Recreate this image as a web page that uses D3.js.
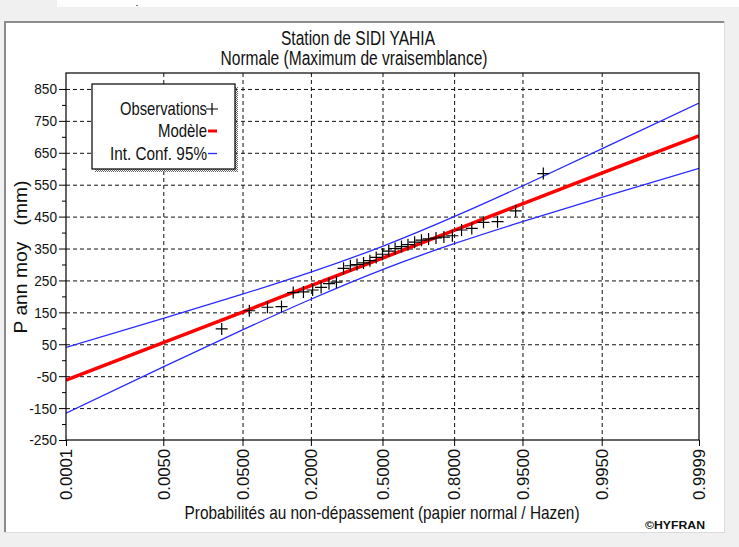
<!DOCTYPE html>
<html><head><meta charset="utf-8">
<script src="https://cdn.jsdelivr.net/npm/d3@7"></script>
<style>
html,body{margin:0;padding:0;background:#f0f0f0;}
svg{display:block;}
</style></head><body>
<svg id="chart" width="739" height="547"></svg>
<script>
// Annual mean rainfall at Sidi Yahia, normal law fitted by maximum likelihood
const probTicks = [0.0001, 0.005, 0.05, 0.2, 0.5, 0.8, 0.95, 0.995, 0.9999];
const probLabels = ["0.0001", "0.0050", "0.0500", "0.2000", "0.5000", "0.8000", "0.9500", "0.9950", "0.9999"];
const yTicks = [-250, -150, -50, 50, 150, 250, 350, 450, 550, 650, 750, 850];
const yMinorTicks = [-200, -100, 0, 100, 200, 300, 400, 500, 600, 700, 800];
// fitted quantiles and 95% confidence bounds at the probability ticks (mm)
const modelValues = [-62, 55, 151, 234, 320, 407, 490, 586, 703];
const ciUpper = [40, 131, 207, 276, 357, 450, 546, 662, 806];
const ciLower = [-166, -21, 95, 191, 284, 365, 434, 510, 601];
// observed annual means, sorted ascending (mm)
const observations = [98, 155, 166, 168, 212, 214, 220, 228, 240, 245, 288, 296, 300, 305, 312, 322, 332,
  342, 350, 356, 362, 370, 376, 380, 383, 386, 390, 408, 413, 432, 434, 468, 585];

const SANS = "'Liberation Sans',Arial,sans-serif";

// inverse of the standard normal CDF (Acklam)
function probit(p) {
  const a = [-3.969683028665376e+01, 2.209460984245205e+02, -2.759285104469687e+02, 1.383577518672690e+02, -3.066479806614716e+01, 2.506628277459239e+00];
  const b = [-5.447609879822406e+01, 1.615858368580409e+02, -1.556989798598866e+02, 6.680131188771972e+01, -1.328068155288572e+01];
  const c = [-7.784894002430293e-03, -3.223964580411365e-01, -2.400758277161838e+00, -2.549732539343734e+00, 4.374664141464968e+00, 2.938163982698783e+00];
  const d = [7.784695709041462e-03, 3.224671290700398e-01, 2.445134137142996e+00, 3.754408661907416e+00];
  const pl = 0.02425;
  let q, r;
  if (p < pl) {
    q = Math.sqrt(-2 * Math.log(p));
    return (((((c[0]*q+c[1])*q+c[2])*q+c[3])*q+c[4])*q+c[5]) / ((((d[0]*q+d[1])*q+d[2])*q+d[3])*q+1);
  }
  if (p <= 1 - pl) {
    q = p - 0.5; r = q * q;
    return (((((a[0]*r+a[1])*r+a[2])*r+a[3])*r+a[4])*r+a[5])*q / (((((b[0]*r+b[1])*r+b[2])*r+b[3])*r+b[4])*r+1);
  }
  q = Math.sqrt(-2 * Math.log(1 - p));
  return -(((((c[0]*q+c[1])*q+c[2])*q+c[3])*q+c[4])*q+c[5]) / ((((d[0]*q+d[1])*q+d[2])*q+d[3])*q+1);
}

const svg = d3.select("#chart");
const plot = {left: 66, right: 699, top: 73, bottom: 440};

const x = d3.scaleLinear().domain([probit(0.0001), probit(0.9999)]).range([plot.left, plot.right]);
const y = d3.scaleLinear().domain([-250, 900]).range([plot.bottom, plot.top]);

// condensed text: the glyphs are squeezed to a set advance width
const squeeze = (sel, len) => sel.attr("textLength", len).attr("lengthAdjust", "spacingAndGlyphs");

// window chrome
svg.append("rect").attr("x", 57).attr("y", 0).attr("width", 682).attr("height", 7).attr("fill", "#fdfdfd");
svg.append("rect").attr("x", 136).attr("y", 5).attr("width", 2).attr("height", 1).attr("fill", "#777");
svg.append("rect").attr("x", 4).attr("y", 21).attr("width", 721).attr("height", 512).attr("fill", "#fff");
svg.append("rect").attr("x", 4).attr("y", 21).attr("width", 721).attr("height", 2).attr("fill", "#8c8c8c");
svg.append("rect").attr("x", 4).attr("y", 21).attr("width", 2).attr("height", 512).attr("fill", "#8c8c8c");
svg.append("rect").attr("x", 724).attr("y", 21).attr("width", 1).attr("height", 512).attr("fill", "#dcdcdc");
svg.append("rect").attr("x", 4).attr("y", 532).attr("width", 721).attr("height", 1).attr("fill", "#dcdcdc");

const defs = svg.append("defs");
defs.append("clipPath").attr("id", "plotClip").append("rect")
  .attr("x", plot.left).attr("y", plot.top)
  .attr("width", plot.right - plot.left).attr("height", plot.bottom - plot.top);
const pat = defs.append("pattern").attr("id", "shadow").attr("width", 2).attr("height", 2)
  .attr("patternUnits", "userSpaceOnUse");
pat.append("rect").attr("width", 1).attr("height", 1).attr("fill", "#666");
pat.append("rect").attr("x", 1).attr("y", 1).attr("width", 1).attr("height", 1).attr("fill", "#666");

// dashed grid
const grid = svg.append("g").attr("class", "grid");
grid.append("g").attr("transform", `translate(${plot.left},0)`)
  .call(d3.axisLeft(y).tickValues(yTicks.filter(v => v > -250)).tickSize(-(plot.right - plot.left)).tickFormat(""))
  .call(g => g.select(".domain").remove());
grid.append("g").attr("transform", `translate(0,${plot.top})`)
  .call(d3.axisBottom(x).tickValues(probTicks.slice(1, -1).map(probit)).tickSize(plot.bottom - plot.top).tickFormat(""))
  .call(g => g.select(".domain").remove());
grid.selectAll("line").attr("stroke", "#111").attr("stroke-width", 1).attr("stroke-dasharray", "4,3");

// fitted line and confidence bounds
const curve = vals => d3.line()
  .x((v, i) => x(probit(probTicks[i])))
  .y(v => y(v))
  .curve(d3.curveNatural)(vals);
const lines = svg.append("g").attr("clip-path", "url(#plotClip)");
lines.append("path").attr("d", curve(ciUpper)).attr("fill", "none").attr("stroke", "#2a2aff").attr("stroke-width", 1.3);
lines.append("path").attr("d", curve(ciLower)).attr("fill", "none").attr("stroke", "#2a2aff").attr("stroke-width", 1.3);
lines.append("path").attr("d", curve(modelValues)).attr("fill", "none").attr("stroke", "#ff0000").attr("stroke-width", 3.5);

// observations at empirical non-exceedance frequencies
const n = observations.length;
const obs = svg.append("g");
observations.forEach((v, i) => {
  const px = x(probit((i + 1) / (n + 1))), py = y(v);
  obs.append("path").attr("d", `M${px - 6},${py}H${px + 6}M${px},${py - 6}V${py + 6}`)
    .attr("stroke", "#000").attr("stroke-width", 1.2).attr("fill", "none");
});

// frame
svg.append("rect").attr("x", plot.left).attr("y", plot.top)
  .attr("width", plot.right - plot.left).attr("height", plot.bottom - plot.top)
  .attr("fill", "none").attr("stroke", "#000").attr("stroke-width", 1.2);

// y axis
const yAxis = svg.append("g").attr("transform", `translate(${plot.left},0)`)
  .call(d3.axisLeft(y).tickValues(yTicks).tickSize(7).tickPadding(2).tickFormat(d => d));
yAxis.append("g").call(d3.axisLeft(y).tickValues(yMinorTicks).tickSize(4).tickFormat(""))
  .call(g => g.select(".domain").remove());
yAxis.selectAll(".domain").remove();
yAxis.selectAll("line").attr("stroke", "#000");
yAxis.selectAll("text").attr("font-family", SANS).attr("font-size", 15.5).attr("fill", "#111")
  .each(function (d) {
    const s = String(d);
    const len = s.replace("-", "").length * 7.6 + (s.startsWith("-") ? 5 : 0);
    squeeze(d3.select(this), len);
  });

// x axis
const xAxis = svg.append("g").attr("transform", `translate(0,${plot.bottom})`)
  .call(d3.axisBottom(x).tickValues(probTicks.map(probit)).tickSize(6)
    .tickFormat((d, i) => probLabels[i]));
xAxis.selectAll(".domain").remove();
xAxis.selectAll("line").attr("stroke", "#000");
squeeze(xAxis.selectAll("text")
  .attr("font-family", SANS).attr("font-size", 16).attr("fill", "#111")
  .attr("text-anchor", "end").attr("y", 0).attr("dy", "0.36em")
  .attr("transform", "translate(0,9) rotate(-90)"), 51);

// titles
const txt = (s, xx, yy, size, len) => squeeze(svg.append("text").attr("x", xx).attr("y", yy)
  .attr("text-anchor", "middle").attr("font-family", SANS).attr("font-size", size).attr("fill", "#111")
  .attr("xml:space", "preserve").text(s), len);
txt("Station de SIDI YAHIA", 358, 45, 20.5, 154);
txt("Normale (Maximum de vraisemblance)", 354, 65, 20, 267);
txt("Probabilités au non-dépassement (papier normal / Hazen)", 382, 519, 18.5, 395);
txt("P ann moy   (mm)", 0, 0, 19, 153).attr("transform", "translate(27,257) rotate(-90)");
squeeze(svg.append("text").attr("x", 705).attr("y", 529).attr("text-anchor", "end")
  .attr("font-family", SANS).attr("font-weight", "bold").attr("font-size", 11.5).attr("fill", "#111")
  .text("©HYFRAN"), 60);

// legend
const lg = svg.append("g");
lg.append("rect").attr("x", 95).attr("y", 87).attr("width", 143).attr("height", 85).attr("fill", "url(#shadow)");
lg.append("rect").attr("x", 92).attr("y", 84).attr("width", 143).attr("height", 85)
  .attr("fill", "#fff").attr("stroke", "#000").attr("stroke-width", 1.2);
const legendItems = ["Observations", "Modèle", "Int. Conf. 95%"];
const legendY = [115, 137, 160];
const legendW = [87, 49, 97];
legendItems.forEach((s, i) => {
  squeeze(lg.append("text").attr("x", 207).attr("y", legendY[i]).attr("text-anchor", "end")
    .attr("font-family", SANS).attr("font-size", 18.5).attr("fill", "#111").text(s), legendW[i]);
});
lg.append("path").attr("d", "M206,109H218M212,103V115").attr("stroke", "#000").attr("stroke-width", 1.2);
lg.append("path").attr("d", "M208,131H217").attr("stroke", "#ff0000").attr("stroke-width", 3);
lg.append("path").attr("d", "M208,153.5H217").attr("stroke", "#2a2aff").attr("stroke-width", 1.3);
</script>
</body></html>
